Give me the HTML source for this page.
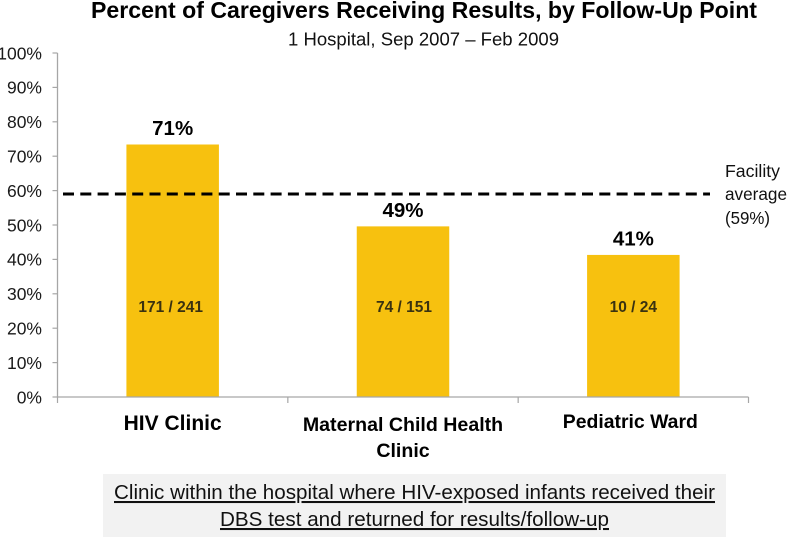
<!DOCTYPE html>
<html lang="en">
<head>
<meta charset="utf-8">
<title>Percent of Caregivers Receiving Results</title>
<style>
html,body{margin:0;padding:0;background:#fff;width:787px;height:537px;overflow:hidden}
svg{display:block;font-family:"Liberation Sans",sans-serif}
</style>
</head>
<body>
<svg id="chart" xmlns="http://www.w3.org/2000/svg" width="787" height="537" viewBox="0 0 787 537">
  <text x="91" y="18" font-size="23" font-weight="bold" fill="#000" textLength="666" lengthAdjust="spacingAndGlyphs">Percent of Caregivers Receiving Results, by Follow-Up Point</text>
  <text x="288" y="45.5" font-size="18.5" fill="#111" textLength="271" lengthAdjust="spacingAndGlyphs">1 Hospital, Sep 2007 – Feb 2009</text>
  <g id="bars"></g>
  <g id="axes"></g>
  <g id="avg"></g>
  <text x="725" y="177" font-size="17.5" fill="#111" textLength="55" lengthAdjust="spacingAndGlyphs">Facility</text>
  <text x="725" y="200" font-size="17.5" fill="#111" textLength="62" lengthAdjust="spacingAndGlyphs">average</text>
  <text x="725" y="224" font-size="17.5" fill="#111" textLength="45" lengthAdjust="spacingAndGlyphs">(59%)</text>
  <rect x="103" y="474" width="623" height="63" fill="#f2f2f2"/>
  <text x="114" y="499" font-size="20.5" fill="#111" text-decoration="underline" textLength="601" lengthAdjust="spacingAndGlyphs">Clinic within the hospital where HIV-exposed infants received their</text>
  <text x="220" y="526" font-size="20.5" fill="#111" text-decoration="underline" textLength="389" lengthAdjust="spacingAndGlyphs">DBS test and returned for results/follow-up</text>
</svg>
<script>
const categories = [["HIV Clinic"], ["Maternal Child Health", "Clinic"], ["Pediatric Ward"]];
const barValues = [73.4, 49.6, 41.3];
const valueLabels = ["71%", "49%", "41%"];
const countLabels = ["171 / 241", "74 / 151", "10 / 24"];
const yTicks = [0, 10, 20, 30, 40, 50, 60, 70, 80, 90, 100];
const averageValue = 59;

const NS = "http://www.w3.org/2000/svg";
const plot = { left: 57.5, right: 748.5, top: 53, bottom: 397 };
const barWidth = 92.5;
const yScale = v => plot.bottom - (v / 100) * (plot.bottom - plot.top);
const band = (plot.right - plot.left) / categories.length;
const xEdge = i => plot.left + band * i;
const xCenter = i => xEdge(i) + band / 2;
const countOffset = i => (i === 0 ? -2 : i === 1 ? 1 : 0);

function make(tag, attrs, parent, text) {
  const el = document.createElementNS(NS, tag);
  for (const k in attrs) el.setAttribute(k, attrs[k]);
  if (text !== undefined) el.textContent = text;
  parent.appendChild(el);
  return el;
}

const barsG = document.getElementById("bars");
const axesG = document.getElementById("axes");
const avgG = document.getElementById("avg");

barValues.forEach((v, i) => {
  const cx = xCenter(i);
  const top = yScale(v);
  const bar = make("rect", { x: cx - barWidth / 2, y: top, width: barWidth, height: plot.bottom - top, fill: "#f7c10f" }, barsG);
  
  

  const val = make("text", { x: cx, y: top - 9.5, "text-anchor": "middle", "font-size": 20.5, "font-weight": "bold", fill: "#000" }, barsG, valueLabels[i]);
  
  

  const cnt = make("text", { x: cx + countOffset(i), y: 312, "text-anchor": "middle", "font-size": 15.5, "font-weight": "bold", fill: "#3a3210" }, barsG, countLabels[i]);
  
  
});

const yAxis = make("line", { x1: plot.left, x2: plot.left, y1: plot.top, y2: plot.bottom, stroke: "#a6a6a6", "stroke-width": 1.3 }, axesG);



const xAxis = make("line", { x1: plot.left, x2: plot.right, y1: plot.bottom, y2: plot.bottom, stroke: "#a6a6a6", "stroke-width": 1.3 }, axesG);



yTicks.forEach(t => {
  const y = yScale(t);
  const tick = make("line", { x1: plot.left - 5, x2: plot.left, y1: y, y2: y, stroke: "#a6a6a6", "stroke-width": 1.2 }, axesG);
  
  

  const label = make("text", { x: 42, y: y + 6.3, "text-anchor": "end", "font-size": 17.5, fill: "#1a1a1a" }, axesG, t + "%");
  
  
});

for (let i = 0; i <= categories.length; i++) {
  const x = xEdge(i);
  const tick = make("line", { x1: x, x2: x, y1: plot.bottom, y2: plot.bottom + 6, stroke: "#a6a6a6", "stroke-width": 1.2 }, axesG);
  
  
}

const catBaselines = [430, 431, 428];
const catFontSizes = [21, 19.6, 19.4];
categories.forEach((lines, i) => {
  lines.forEach((line, j) => {
    const label = make("text", { x: xCenter(i) + (i === 2 ? -3 : 0), y: catBaselines[i] + j * 26, "text-anchor": "middle", "font-size": catFontSizes[i], "font-weight": "bold", fill: "#000" }, axesG, line);
    
    
  });
});

const avgLine = make("line", { x1: 63, x2: 710, y1: yScale(averageValue), y2: yScale(averageValue), stroke: "#000", "stroke-width": 3, "stroke-dasharray": "11 6.3" }, avgG);


</script>
</body>
</html>
